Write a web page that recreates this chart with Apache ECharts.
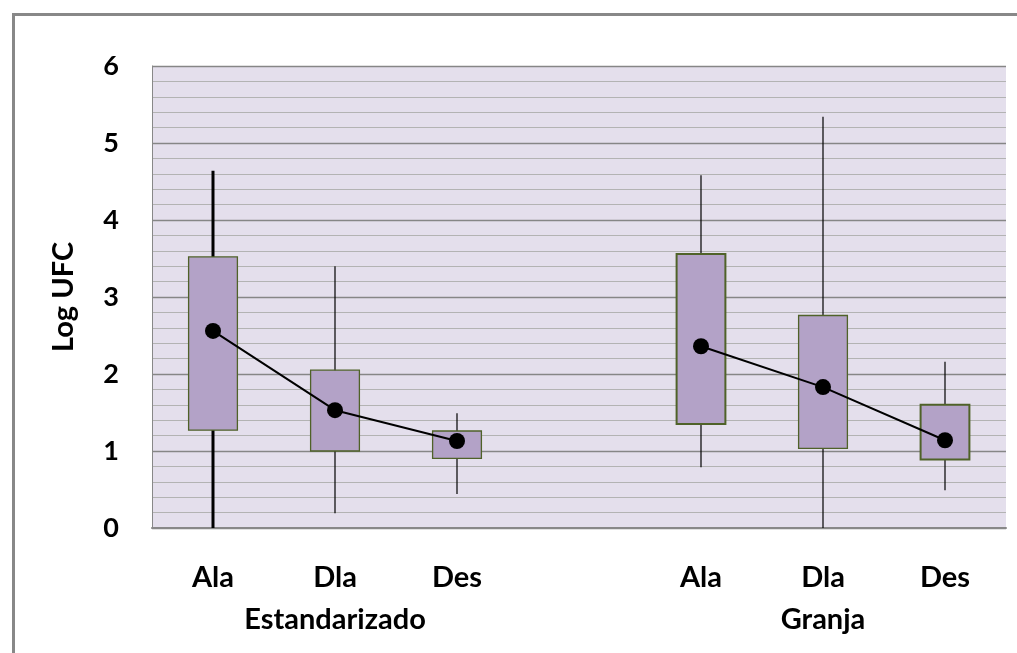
<!DOCTYPE html>
<html>
<head>
<meta charset="utf-8">
<script src="https://cdn.jsdelivr.net/npm/echarts@6/dist/echarts.min.js"></script>
<style>
  html, body { margin: 0; padding: 0; background: #fff; }
  #chart { width: 1017px; height: 653px; }
</style>
</head>
<body>
<div id="chart"></div>
<script>
// Categories: three sample sites for each of two groups, with an empty slot between groups
const categories = ['Ala', 'Dla', 'Des', '', 'Ala', 'Dla', 'Des'];
const groupLabels = ['', 'Estandarizado', '', '', '', 'Granja', ''];

// Box statistics per category (Log UFC): minimum, first quartile, third quartile, maximum
const minVals = [0.00, 0.19, 0.44, null, 0.79, 0.00, 0.49];
const q1Vals  = [1.27, 1.00, 0.905, null, 1.35, 1.035, 0.89];
const q3Vals  = [3.52, 2.05, 1.26, null, 3.56, 2.76, 1.60];
const maxVals = [4.64, 3.40, 1.49, null, 4.58, 5.34, 2.16];

// Mean per category
const meanVals = [2.56, 1.53, 1.13, null, 2.36, 1.83, 1.14];

const yTicks = [0, 1, 2, 3, 4, 5, 6];

const boxData = [];
categories.forEach((c, i) => {
  if (minVals[i] !== null) boxData.push([i, minVals[i], q1Vals[i], q3Vals[i], maxVals[i]]);
});

const labelFont = { fontFamily: 'Lato', fontWeight: 'bold', color: '#000' };

const chart = echarts.init(document.getElementById('chart'), null, { renderer: 'canvas' });

chart.setOption({
  animation: false,
  backgroundColor: '#fff',
  graphic: [{
    type: 'rect',
    left: 11, top: 12,
    shape: { width: 1030, height: 670 },
    style: { fill: 'none', stroke: '#888', lineWidth: 3 },
    silent: true
  }],
  grid: {
    left: 152, right: 11, top: 66, bottom: 125,
    show: true, backgroundColor: '#e4dfec', borderWidth: 0
  },
  xAxis: [{
    type: 'category',
    data: categories,
    position: 'bottom',
    axisLine: { show: true, lineStyle: { color: '#888', width: 2 } },
    axisTick: { show: false },
    axisLabel: Object.assign({ fontSize: 29, margin: 35, interval: 0 }, labelFont),
    splitLine: { show: false }
  }, {
    type: 'category',
    data: groupLabels,
    position: 'bottom',
    offset: 42,
    axisLine: { show: false },
    axisTick: { show: false },
    axisLabel: Object.assign({ fontSize: 29, margin: 35, interval: 0 }, labelFont),
    splitLine: { show: false }
  }],
  yAxis: {
    type: 'value',
    min: yTicks[0], max: yTicks[yTicks.length - 1], interval: 1,
    name: 'Log UFC',
    nameLocation: 'middle',
    nameRotate: 90,
    nameGap: 74,
    nameTextStyle: Object.assign({ fontSize: 29 }, labelFont),
    axisLine: { show: true, lineStyle: { color: '#888', width: 1 } },
    axisTick: { show: false },
    axisLabel: Object.assign({ fontSize: 27, margin: 33 }, labelFont),
    splitLine: { show: true, lineStyle: { color: '#868686', width: 1.3 } },
    minorTick: { show: false, splitNumber: 5 },
    minorSplitLine: { show: true, lineStyle: { color: '#b3b3b3', width: 1 } }
  },
  series: [{
    type: 'custom',
    name: 'box',
    data: boxData,
    encode: { x: 0, y: [1, 2, 3, 4] },
    z: 2,
    renderItem: function (params, api) {
      const idx = api.value(0);
      const pMin = api.coord([idx, api.value(1)]);
      const pQ1 = api.coord([idx, api.value(2)]);
      const pQ3 = api.coord([idx, api.value(3)]);
      const pMax = api.coord([idx, api.value(4)]);
      const band = api.size([1, 0])[0];
      const w = band * 0.4;
      const whiskerW = idx === 0 ? 3 : 1.2;
      const borderW = (idx === 4 || idx === 6) ? 2 : 1.3;
      return {
        type: 'group',
        children: [{
          type: 'line',
          shape: { x1: pMin[0], y1: pMin[1], x2: pMax[0], y2: pMax[1] },
          style: { stroke: '#000', lineWidth: whiskerW }
        }, {
          type: 'rect',
          shape: { x: pQ3[0] - w / 2, y: pQ3[1], width: w, height: pQ1[1] - pQ3[1] },
          style: { fill: '#b3a2c7', stroke: '#4f6228', lineWidth: borderW }
        }]
      };
    }
  }, {
    type: 'line',
    name: 'media',
    data: meanVals,
    z: 5,
    connectNulls: false,
    symbol: 'circle',
    symbolSize: 16,
    itemStyle: { color: '#000' },
    lineStyle: { color: '#000', width: 2 }
  }]
});
</script>
</body>
</html>
